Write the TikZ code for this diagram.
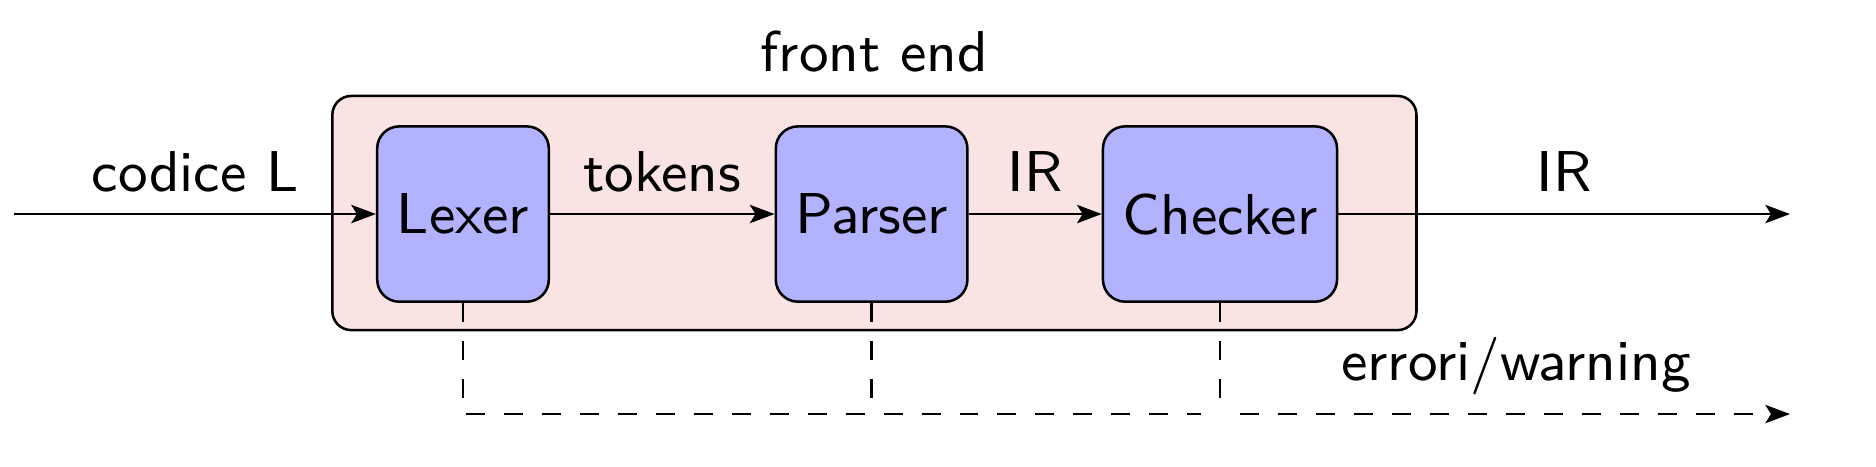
\documentclass[tikz,border=0pt]{standalone}
\usepackage{fontspec}
\usetikzlibrary{arrows.meta}
\begin{document}
\begin{tikzpicture}[x=0.158pt,y=-0.158pt,
  font=\fontsize{9.1}{11}\selectfont\sffamily,
  >={Stealth[length=3.9pt,width=2.9pt,inset=0.9pt]},
  stage/.style={draw,fill=blue!30,rounded corners=3.5pt,minimum height=27.7pt,inner sep=3.1pt},
  frame/.style={draw,fill=red!9!white!98!black,rounded corners=3pt,inner sep=0pt,minimum width=171.3pt,minimum height=37pt},
  flow/.style={->},
  errflow/.style={dashed},
  lbl/.style={midway,above}]
\useasboundingbox (0,0) rectangle (1876,466);
\node[frame,label={above:front end}] (fe) at (874.4,213) {};
\node[stage] (lexer) at (463,214) {Lexer};
\node[stage] (parser) at (871.6,214) {Parser};
\node[stage] (checker) at (1220,214) {Checker};
\coordinate (in) at (14.4,214);
\coordinate (out) at (1790,214);
\coordinate (errend) at (1790,414);
\coordinate (gapa) at (1201,414);
\coordinate (gapb) at (1240,414);
\draw[flow] (in) -- (lexer) node[lbl] {codice L};
\draw[flow] (lexer) -- (parser) node[lbl] {tokens};
\draw[flow] (parser) -- (checker) node[lbl] {IR};
\draw[flow] (checker) -- (out) node[lbl] {IR};
\draw[errflow] (lexer.south) |- (gapa);
\draw[errflow] (parser.south) -- (parser.south |- errend);
\draw[errflow] (checker.south) -- (checker.south |- errend);
\draw[errflow,->] (gapb) -- (errend);
\node[anchor=base] (err) at (1516,380) {errori/warning};
\end{tikzpicture}
\end{document}
